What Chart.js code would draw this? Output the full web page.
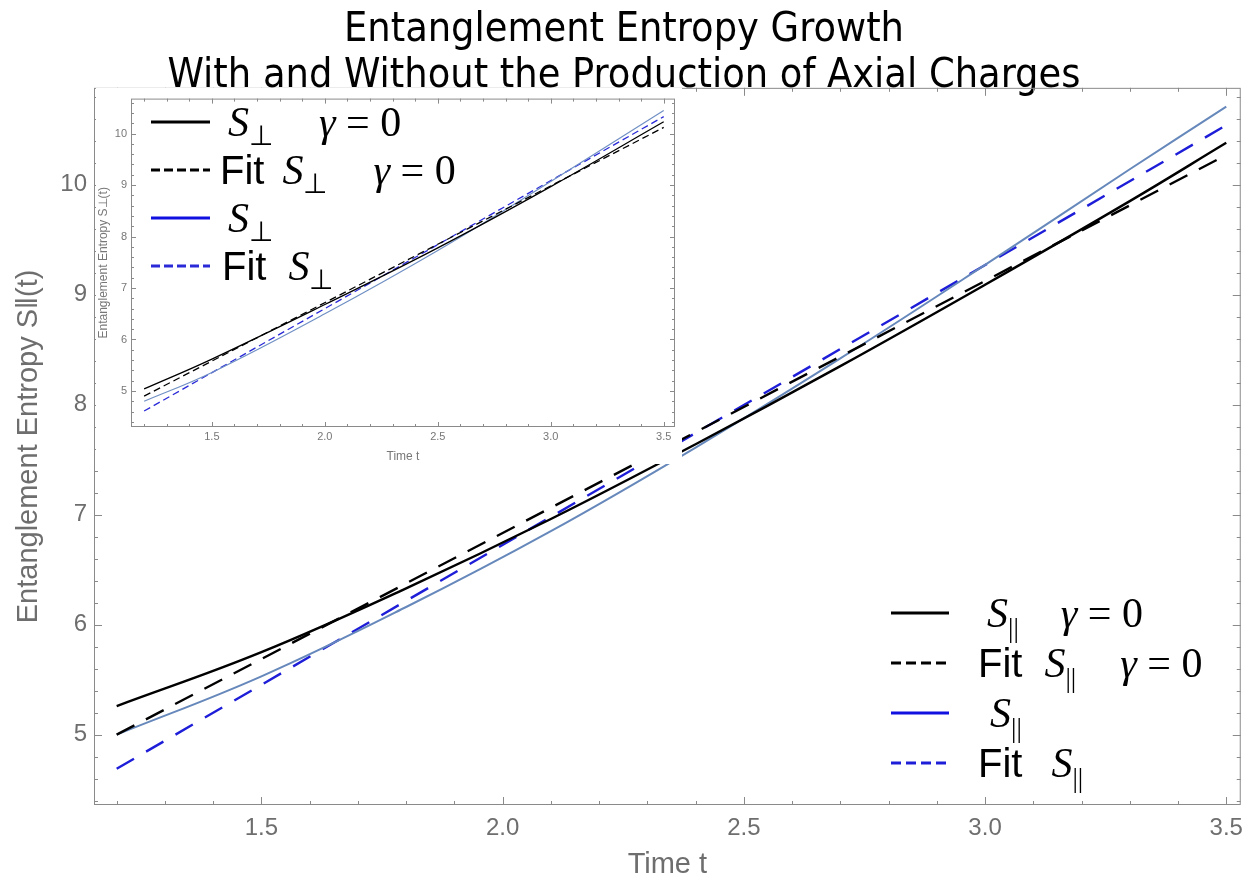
<!DOCTYPE html>
<html>
<head>
<meta charset="utf-8">
<script src="https://cdn.jsdelivr.net/npm/chart.js@4.4.1/dist/chart.umd.min.js"></script>
<style>
  body { margin: 0; background: #fff; }
  #wrap { position: relative; width: 1252px; height: 884px; }
  #inset { position: absolute; left: 96px; top: 88px; background: #fff; }
</style>
</head>
<body>
<div id="wrap">
  <canvas id="mainChart" width="1252" height="884"></canvas>
  <canvas id="inset" width="586" height="376"></canvas>
</div>
<script>
// main plot: parallel entropy S_||(t)
const tCurve = [1.2, 1.5, 1.8, 2.1, 2.4, 2.7, 3.0, 3.3, 3.5];
const sParGamma0 = [5.26, 5.75, 6.33, 6.96, 7.64, 8.35, 9.09, 9.85, 10.38];
const sPar = [5.00, 5.53, 6.16, 6.85, 7.61, 8.42, 9.27, 10.14, 10.71];
const tFit = [1.2, 3.5];
const fitParGamma0 = [5.00, 10.27];
const fitPar = [4.69, 10.54];

// inset: perpendicular entropy S_perp(t)
const tInset = [1.2, 1.5, 2.0, 2.5, 3.0, 3.5];
const sPerpGamma0 = [5.04, 5.62, 6.68, 7.78, 8.97, 10.23];
const sPerp = [4.80, 5.36, 6.50, 7.73, 9.07, 10.45];
const fitPerpGamma0 = [4.90, 10.12];
const fitPerp = [4.61, 10.33];

// tick labels
const xTicks = [1.5, 2.0, 2.5, 3.0, 3.5];
const yTicks = [5, 6, 7, 8, 9, 10];

const toPoints = (xs, ys) => xs.map((x, i) => ({ x: x, y: ys[i] }));

const SANS = "'Liberation Sans', Arial, sans-serif";
const NARROW = "'Liberation Sans Narrow', 'Liberation Sans', sans-serif";
const SERIF = "'Liberation Serif', 'Times New Roman', serif";

// Mathematica style frame with inward ticks on all four sides
const framePlugin = {
  id: 'frame',
  afterDraw(chart, args, opts) {
    const ctx = chart.ctx;
    const a = chart.chartArea;
    const x = chart.scales.x, y = chart.scales.y;
    ctx.save();
    ctx.strokeStyle = opts.color;
    ctx.lineWidth = 1;
    ctx.strokeRect(a.left + 0.5, a.top + 0.5, a.right - a.left - 1, a.bottom - a.top - 1);
    const seg = (x1, y1, x2, y2) => { ctx.beginPath(); ctx.moveTo(x1, y1); ctx.lineTo(x2, y2); ctx.stroke(); };
    const isMajor = (v, step) => Math.abs(v / step - Math.round(v / step)) < 1e-6;
    for (let i = Math.ceil(x.min / opts.xMinor - 1e-9); i * opts.xMinor <= x.max + 1e-9; i++) {
      const v = i * opts.xMinor;
      const len = isMajor(v, opts.xMajor) ? opts.majorLen : opts.minorLen;
      const px = Math.round(x.getPixelForValue(v)) + 0.5;
      seg(px, a.bottom, px, a.bottom - len);
      seg(px, a.top, px, a.top + len);
    }
    for (let i = Math.ceil(y.min / opts.yMinor - 1e-9); i * opts.yMinor <= y.max + 1e-9; i++) {
      const v = i * opts.yMinor;
      const len = isMajor(v, opts.yMajor) ? opts.majorLen : opts.minorLen;
      const py = Math.round(y.getPixelForValue(v)) + 0.5;
      seg(a.left, py, a.left + len, py);
      seg(a.right, py, a.right - len, py);
    }
    ctx.restore();
  }
};

// legend with LaTeX-like labels (S with subscript, gamma = 0)
const mathLegendPlugin = {
  id: 'mathLegend',
  afterDraw(chart, args, opts) {
    const ctx = chart.ctx;
    ctx.save();
    chart.data.datasets.forEach((ds, i) => {
      const rowY = opts.y + i * opts.rowGap;
      ctx.strokeStyle = ds.legendColor || ds.borderColor;
      ctx.lineWidth = opts.lineWidth;
      ctx.setLineDash(ds.borderDash && ds.borderDash.length ? opts.dash : []);
      ctx.beginPath();
      ctx.moveTo(opts.x, rowY);
      ctx.lineTo(opts.x + opts.lineLen, rowY);
      ctx.stroke();
      ctx.setLineDash([]);
      ctx.fillStyle = '#000';
      ctx.textBaseline = 'alphabetic';
      ctx.textAlign = 'left';
      const base = rowY + opts.size * 0.34;
      let cx = opts.x + opts.lineLen;
      ds.mathLabel.forEach(tok => {
        cx += tok.gap || 0;
        if (tok.kind === 'sans') ctx.font = opts.sansSize + 'px ' + SANS;
        else if (tok.kind === 'it') ctx.font = 'italic ' + opts.size + 'px ' + SERIF;
        else ctx.font = opts.size + 'px ' + SERIF;
        ctx.fillText(tok.txt, cx, base);
        cx += ctx.measureText(tok.txt).width;
        if (tok.sub) {
          ctx.font = opts.subSize + 'px ' + SERIF;
          ctx.fillText(tok.sub, cx, base + opts.subDrop);
          cx += ctx.measureText(tok.sub).width;
        }
      });
    });
    ctx.restore();
  }
};

const parLabels = [
  [{ txt: 'S', kind: 'it', sub: '||', gap: 38 }, { txt: 'γ', kind: 'it', gap: 42 }, { txt: ' = 0', kind: 'rm' }],
  [{ txt: 'Fit', kind: 'sans', gap: 29 }, { txt: 'S', kind: 'it', sub: '||', gap: 22 }, { txt: 'γ', kind: 'it', gap: 44 }, { txt: ' = 0', kind: 'rm' }],
  [{ txt: 'S', kind: 'it', sub: '||', gap: 41 }],
  [{ txt: 'Fit', kind: 'sans', gap: 29 }, { txt: 'S', kind: 'it', sub: '||', gap: 29 }]
];
const perpLabels = [
  [{ txt: 'S', kind: 'it', sub: '⊥', gap: 18 }, { txt: 'γ', kind: 'it', gap: 46 }, { txt: ' = 0', kind: 'rm' }],
  [{ txt: 'Fit', kind: 'sans', gap: 10 }, { txt: 'S', kind: 'it', sub: '⊥', gap: 18 }, { txt: 'γ', kind: 'it', gap: 46 }, { txt: ' = 0', kind: 'rm' }],
  [{ txt: 'S', kind: 'it', sub: '⊥', gap: 18 }],
  [{ txt: 'Fit', kind: 'sans', gap: 12 }, { txt: 'S', kind: 'it', sub: '⊥', gap: 22 }]
];

// Main chart
new Chart(document.getElementById('mainChart'), {
  type: 'line',
  data: {
    datasets: [{
      label: 'S∥ γ = 0',
      data: toPoints(tCurve, sParGamma0),
      borderColor: '#000000',
      borderWidth: 2.4,
      tension: 0.4,
      mathLabel: parLabels[0]
    }, {
      label: 'Fit S∥ γ = 0',
      data: toPoints(tFit, fitParGamma0),
      borderColor: '#000000',
      borderWidth: 2.4,
      borderDash: [20, 13],
      mathLabel: parLabels[1]
    }, {
      label: 'S∥',
      data: toPoints(tCurve, sPar),
      borderColor: '#6688bb',
      legendColor: '#1010e0',
      borderWidth: 2,
      tension: 0.4,
      mathLabel: parLabels[2]
    }, {
      label: 'Fit S∥',
      data: toPoints(tFit, fitPar),
      borderColor: '#1e1ed8',
      borderWidth: 2.4,
      borderDash: [20, 14],
      mathLabel: parLabels[3]
    }]
  },
  options: {
    responsive: false,
    animation: false,
    layout: { padding: { right: 4 } },
    elements: { point: { radius: 0 } },
    scales: {
      x: {
        type: 'linear',
        min: 1.153,
        max: 3.53,
        afterBuildTicks: s => { s.ticks = xTicks.map(v => ({ value: v })); },
        afterFit: s => { s.height = 79; },
        grid: { display: false, drawTicks: false },
        border: { display: false },
        ticks: {
          padding: 9,
          color: '#6e6e6e',
          font: { family: NARROW, size: 24 },
          callback: v => v.toFixed(1)
        },
        title: {
          display: true,
          text: 'Time t',
          color: '#6e6e6e',
          font: { family: NARROW, size: 29 },
          padding: { top: 0, bottom: 2 }
        }
      },
      y: {
        type: 'linear',
        min: 4.36,
        max: 10.88,
        afterBuildTicks: s => { s.ticks = yTicks.map(v => ({ value: v })); },
        afterFit: s => { s.width = 94; },
        grid: { display: false, drawTicks: false },
        border: { display: false },
        ticks: {
          padding: 7,
          color: '#6e6e6e',
          font: { family: SANS, size: 24 }
        },
        title: {
          display: true,
          text: 'Entanglement Entropy S‖(t)',
          color: '#6e6e6e',
          font: { family: NARROW, size: 29 },
          padding: { top: 12, bottom: 0 }
        }
      }
    },
    plugins: {
      legend: { display: false },
      tooltip: { enabled: false },
      title: {
        display: true,
        text: ['Entanglement Entropy Growth', 'With and Without the Production of Axial Charges'],
        color: '#000',
        font: { family: "'DejaVu Sans Condensed', 'Liberation Sans Narrow', sans-serif", size: 41, weight: 'normal', lineHeight: 1.12 },
        padding: { top: 7, bottom: -11 }
      },
      frame: { color: '#8a8a8a', xMinor: 0.1, xMajor: 0.5, yMinor: 0.2, yMajor: 1, majorLen: 8, minorLen: 4 },
      mathLegend: { x: 891, y: 613, rowGap: 50, lineLen: 58, lineWidth: 3, dash: [10, 5], size: 42, sansSize: 40, subSize: 27, subDrop: 10 }
    }
  },
  plugins: [framePlugin, mathLegendPlugin]
});

// Inset chart
new Chart(document.getElementById('inset'), {
  type: 'line',
  data: {
    datasets: [{
      label: 'S⊥ γ = 0',
      data: toPoints(tInset, sPerpGamma0),
      borderColor: '#000000',
      borderWidth: 1.3,
      tension: 0.4,
      mathLabel: perpLabels[0]
    }, {
      label: 'Fit S⊥ γ = 0',
      data: toPoints(tFit, fitPerpGamma0),
      borderColor: '#000000',
      borderWidth: 1.3,
      borderDash: [7, 4],
      mathLabel: perpLabels[1]
    }, {
      label: 'S⊥',
      data: toPoints(tInset, sPerp),
      borderColor: '#7090c4',
      legendColor: '#1010e0',
      borderWidth: 1.2,
      tension: 0.4,
      mathLabel: perpLabels[2]
    }, {
      label: 'Fit S⊥',
      data: toPoints(tFit, fitPerp),
      borderColor: '#2a2ad8',
      borderWidth: 1.3,
      borderDash: [7, 4],
      mathLabel: perpLabels[3]
    }]
  },
  options: {
    responsive: false,
    animation: false,
    layout: { padding: { right: 7, top: 3 } },
    elements: { point: { radius: 0 } },
    scales: {
      x: {
        type: 'linear',
        min: 1.142,
        max: 3.55,
        afterBuildTicks: s => { s.ticks = xTicks.map(v => ({ value: v })); },
        afterFit: s => { s.height = 37; },
        grid: { display: false, drawTicks: false },
        border: { display: false },
        ticks: {
          padding: 3,
          color: '#777',
          font: { family: SANS, size: 11 },
          callback: v => v.toFixed(1)
        },
        title: {
          display: true,
          text: 'Time t',
          color: '#777',
          font: { family: SANS, size: 12 },
          padding: { top: 0, bottom: 0 }
        }
      },
      y: {
        type: 'linear',
        min: 4.30,
        max: 10.68,
        afterBuildTicks: s => { s.ticks = yTicks.map(v => ({ value: v })); },
        afterFit: s => { s.width = 35; },
        grid: { display: false, drawTicks: false },
        border: { display: false },
        ticks: {
          padding: 4,
          color: '#777',
          font: { family: SANS, size: 11 }
        },
        title: {
          display: true,
          text: 'Entanglement Entropy S⊥(t)',
          color: '#777',
          font: { family: SANS, size: 12 },
          padding: { top: 0, bottom: 0 }
        }
      }
    },
    plugins: {
      legend: { display: false },
      tooltip: { enabled: false },
      frame: { color: '#8a8a8a', xMinor: 0.1, xMajor: 0.5, yMinor: 0.2, yMajor: 1, majorLen: 5, minorLen: 3 },
      mathLegend: { x: 55, y: 34, rowGap: 48, lineLen: 59, lineWidth: 3, dash: [9, 4], size: 42, sansSize: 40, subSize: 28, subDrop: 9 }
    }
  },
  plugins: [framePlugin, mathLegendPlugin]
});
</script>
</body>
</html>
